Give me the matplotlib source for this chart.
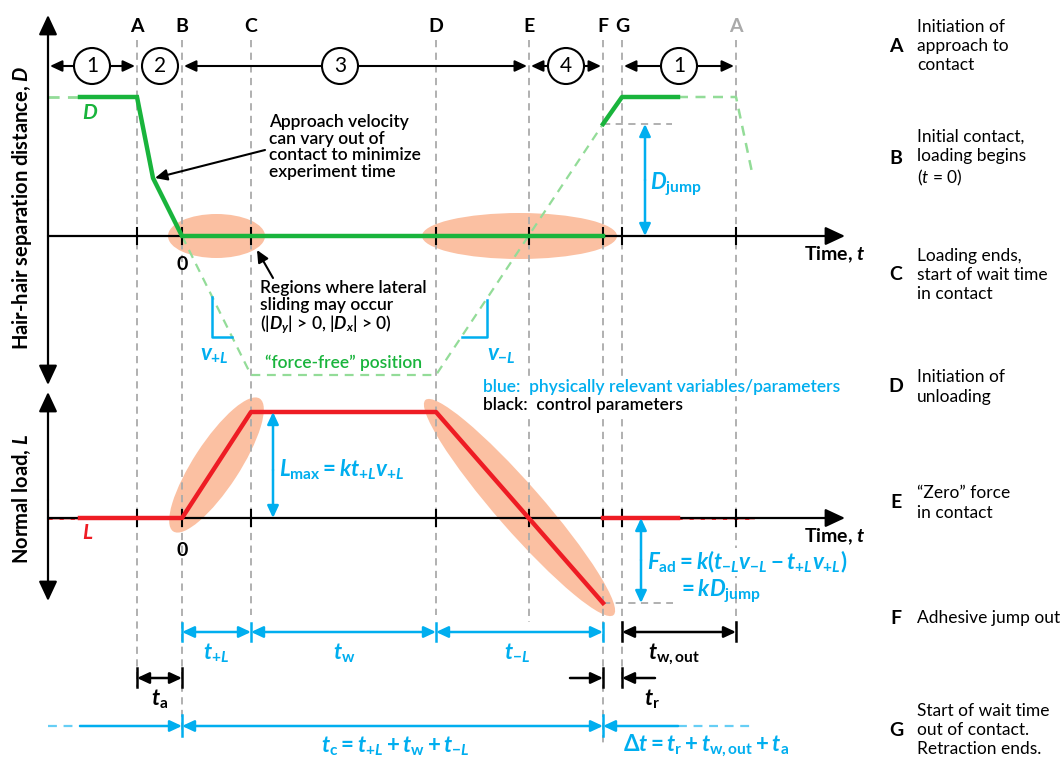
import numpy as np
import matplotlib.pyplot as plt
from matplotlib.patches import Ellipse, Circle

plt.rcParams['font.family'] = ['Lato', 'DejaVu Sans']
plt.rcParams['mathtext.fontset'] = 'custom'
plt.rcParams['mathtext.rm'] = 'Lato:bold'
plt.rcParams['mathtext.bf'] = 'Lato:bold'
plt.rcParams['mathtext.it'] = 'Lato:italic:bold'
plt.rcParams['mathtext.sf'] = 'Lato:italic'

# event letters and their position along the time axis (drawing units)
events = ["A", "B", "C", "D", "E", "F", "G", "A"]
t_ev = [137, 182, 251, 436, 529, 603, 622, 736]
ev_line_end = [687, 733, 615, 615, 622, 743, 687, 640]

# phases of the cycle
phases = ["1", "2", "3", "4", "1"]
phase_span = [(48, 137), (137, 182), (182, 529), (529, 603), (622, 736)]
phase_x = [92, 160, 340, 566, 679]

# separation distance D (positive = apart), in contact
d_t = [80, 137, 153, 182, 603]
d_val = [139, 139, 58, 0, 0]
# after jump out
d_out_t = [603, 622, 678]
d_out_val = [112, 139, 139]
# force-free position
ff_t = [182, 251, 436, 603]
ff_val = [0, -139, -139, 112]

# normal load L
l_t = [80, 182, 251, 436, 603]
l_val = [0, 0, 106, 106, -85]
l_out_t = [603, 678]
l_out_val = [0, 0]

# step descriptions on the right
desc_letters = ["A", "B", "C", "D", "E", "F", "G"]
desc_text = ["Initiation of\napproach to\ncontact",
             "Initial contact,\nloading begins\n($\\mathsf{t}$ = 0)",
             "Loading ends,\nstart of wait time\nin contact",
             "Initiation of\nunloading",
             "\u201cZero\u201d force\nin contact",
             "Adhesive jump out",
             "Start of wait time\nout of contact.\nRetraction ends."]
desc_y = [46, 158, 275, 387, 503, 618, 730]

GREEN = '#19b43c'
LGREEN = '#93dc98'
RED = '#ee1c24'
LRED = '#f8a5a5'
BLUE = '#00aeef'
SALMON = '#fbc0a2'
GREY = '#aaaaaa'

Y_D = 236   # zero line of D panel
Y_L = 518   # zero line of L panel

fig = plt.figure(figsize=(10.61, 7.59), dpi=100)
ax = fig.add_axes([0, 0, 1, 1])
ax.set_xlim(0, 1061)
ax.set_ylim(759, 0)
ax.axis('off')


def yd(v):
    return Y_D - np.asarray(v)


def yl(v):
    return Y_L - np.asarray(v)


def arr(x0, y0, x1, y1, c='black', both=False, lw=1.5, ms=12, z=4):
    st = '<|-|>' if both else '-|>'
    ax.annotate('', xy=(x1, y1), xytext=(x0, y0),
                arrowprops=dict(arrowstyle=st + ',head_length=0.6,head_width=0.28',
                                color=c, lw=lw, shrinkA=0, shrinkB=0,
                                mutation_scale=ms), zorder=z)


def blob(x0, y0, x1, y1, pad, minor):
    cx, cy = (x0 + x1) / 2, (y0 + y1) / 2
    ang = np.degrees(np.arctan2(y1 - y0, x1 - x0))
    length = np.hypot(x1 - x0, y1 - y0) + 2 * pad
    ax.add_patch(Ellipse((cx, cy), length, minor, angle=ang,
                         facecolor=SALMON, lw=0, zorder=1))


# highlighted sliding regions
blob(t_ev[1], Y_D, t_ev[2], Y_D, 14, 44)
blob(t_ev[3], Y_D, t_ev[5], Y_D, 14, 46)
blob(l_t[1], yl(l_val[1]), l_t[2], yl(l_val[2]), 16, 46)
blob(l_t[3], yl(l_val[3]), l_t[4], yl(l_val[4]), 16, 46)

# event lines and letters
for i, (e, x) in enumerate(zip(events, t_ev)):
    ax.plot([x, x], [40, ev_line_end[i]], color=GREY, lw=1.3,
            dashes=(4, 3), zorder=2)
    col = GREY if i == len(events) - 1 else 'black'
    ax.text(x, 26, e, ha='center', va='center', fontsize=14,
            fontweight='bold', color=col)
    for y0 in (Y_D, Y_L):
        ax.plot([x, x], [y0 - 8, y0 + 8], color='black', lw=1.5, zorder=4)

# axes
arr(48, 200, 48, 15, ms=20, lw=1.6)
arr(48, 200, 48, 385, ms=20, lw=1.6)
arr(48, 500, 48, 392, ms=20, lw=1.6)
arr(48, 500, 48, 601, ms=20, lw=1.6)
arr(48, Y_D, 845, Y_D, ms=20, lw=1.6)
arr(48, Y_L, 845, Y_L, ms=20, lw=1.6)
ax.text(866, 255, 'Time, $t$', ha='right', va='center', fontsize=14,
        fontweight='bold')
ax.text(866, 537, 'Time, $t$', ha='right', va='center', fontsize=14,
        fontweight='bold')
ax.text(22, 208, 'Hair-hair separation distance, $D$', rotation=90,
        ha='center', va='center', fontsize=14.5, fontweight='bold')
ax.text(22, 499, 'Normal load, $L$', rotation=90, ha='center', va='center',
        fontsize=14.5, fontweight='bold')

# phases
for p, (a, b), cx in zip(phases, phase_span, phase_x):
    ax.add_patch(Circle((cx, 66), 18, facecolor='white', edgecolor='black',
                        lw=1.5, zorder=5))
    ax.text(cx, 66, p, ha='center', va='center', fontsize=15, zorder=6)
    if cx - 18 - a > 8:
        arr(cx - 18, 66, a + 2, 66)
        arr(cx + 18, 66, b - 2, 66)

# D curve
ax.plot([48, d_t[0]], yd([d_val[0], d_val[0]]), color=LGREEN, lw=2,
        dashes=(4, 3), zorder=3)
ax.plot(ff_t, yd(ff_val), color=LGREEN, lw=1.6, dashes=(4, 3), zorder=3)
ax.plot([d_out_t[-1], t_ev[-1], 753], yd([139, 139, 59]), color=LGREEN,
        lw=1.8, dashes=(4, 3), zorder=3)
ax.plot(d_t, yd(d_val), color=GREEN, lw=3.2, zorder=4,
        solid_joinstyle='miter')
ax.plot(d_out_t, yd(d_out_val), color=GREEN, lw=3.2, zorder=4)
ax.text(90, 113, '$D$', color=GREEN, fontsize=15, ha='center', va='center')
ax.text(182, 264, '0', fontsize=14, fontweight='bold', ha='center',
        va='center')

# D jump
ax.plot([d_out_t[0], 672], yd([d_out_val[0]] * 2), color=GREY, lw=1.3,
        dashes=(4, 3), zorder=2)
arr(645, 180, 645, yd(d_out_val[0]), c=BLUE, lw=1.8)
arr(645, 180, 645, Y_D, c=BLUE, lw=1.8)
ax.text(650, 184, r'$D_{\rm jump}$', color=BLUE, fontsize=16, ha='left',
        va='center')

# velocity triangles
ax.plot([212, 212, 232], [297, 337, 337], color=BLUE, lw=1.8, zorder=3)
ax.text(200, 356, '$v_{+L}$', color=BLUE, fontsize=16, ha='left',
        va='center')
ax.plot([487, 487, 462], [300, 337, 337], color=BLUE, lw=1.8, zorder=3)
ax.text(487, 356, '$v_{-L}$', color=BLUE, fontsize=16, ha='left',
        va='center')
ax.text(265, 363, '\u201cforce-free\u201d position', color=GREEN, fontsize=12.5,
        fontweight='semibold', ha='left', va='center')

# annotations
ax.text(269, 147, 'Approach velocity\ncan vary out of\ncontact to minimize\n'
        'experiment time', fontsize=12.5, fontweight='semibold', ha='left',
        va='center', linespacing=1.05)
arr(265, 150, 155, 178, lw=1.5)
ax.text(260, 308, 'Regions where lateral\nsliding may occur\n'
        '(|$D_y$| > 0, |$D_x$| > 0)', fontsize=12.5, fontweight='semibold',
        ha='left', va='center', linespacing=1.05)
arr(273, 278, 257, 250, lw=1.5)

# legend of colours
ax.text(483, 387, 'blue:  physically relevant variables/parameters',
        color=BLUE, fontsize=12.5, fontweight='semibold', ha='left',
        va='center', zorder=5,
        bbox=dict(facecolor='white', edgecolor='none', pad=0.5))
ax.text(483, 405, 'black:  control parameters', color='black', fontsize=12.5,
        fontweight='semibold', ha='left', va='center', zorder=5,
        bbox=dict(facecolor='white', edgecolor='none', pad=0.5))

# L curve
ax.plot([48, l_t[0]], [Y_L, Y_L], color=LRED, lw=2, zorder=3)
ax.plot([48, l_t[0]], [Y_L, Y_L], color=RED, lw=2, dashes=(1.5, 2.5),
        zorder=3)
ax.plot([l_out_t[-1], 753], [Y_L, Y_L], color=LRED, lw=2, zorder=3)
ax.plot([l_out_t[-1], 753], [Y_L, Y_L], color=RED, lw=2, dashes=(1.5, 2.5),
        zorder=3)
ax.plot(l_t, yl(l_val), color=RED, lw=3.2, zorder=4)
ax.plot(l_out_t, yl(l_out_val), color=RED, lw=3.2, zorder=4)
ax.text(88, 533, '$L$', color=RED, fontsize=15, ha='center', va='center')
ax.text(182, 550, '0', fontsize=14, fontweight='bold', ha='center',
        va='center')

# L max
arr(273, 470, 273, yl(l_val[2]), c=BLUE, lw=1.8)
arr(273, 470, 273, Y_L, c=BLUE, lw=1.8)
ax.text(279, 470, r'$L_{\rm max} = kt_{+L}v_{+L}$', color=BLUE, fontsize=16,
        ha='left', va='center')

# adhesion
ax.plot([l_t[-1], 673], yl([l_val[-1]] * 2), color=GREY, lw=1.3,
        dashes=(4, 3), zorder=2)
arr(641, 560, 641, Y_L, c=BLUE, lw=1.8)
arr(641, 560, 641, yl(l_val[-1]), c=BLUE, lw=1.8)
ax.text(647, 562, r'$F_{\rm ad} = k(t_{-L}v_{-L} - t_{+L}v_{+L})$',
        color=BLUE, fontsize=16, ha='left', va='center', zorder=5,
        bbox=dict(facecolor='white', edgecolor='none', pad=0.5))
ax.text(678, 591, r'$= kD_{\rm jump}$', color=BLUE, fontsize=16, ha='left',
        va='center')

# time intervals, row 1
for x in (t_ev[1], t_ev[2], t_ev[3], t_ev[5]):
    ax.plot([x, x], [623, 641], color=BLUE, lw=1.8, zorder=4)
arr(t_ev[1], 632, t_ev[2], 632, c=BLUE, both=True, lw=1.8)
arr(t_ev[2], 632, t_ev[3], 632, c=BLUE, both=True, lw=1.8)
arr(t_ev[3], 632, t_ev[5], 632, c=BLUE, both=True, lw=1.8)
ax.text(216, 653, '$t_{+L}$', color=BLUE, fontsize=16, ha='center',
        va='center')
ax.text(344, 653, r'$t_{\rm w}$', color=BLUE, fontsize=16, ha='center',
        va='center')
ax.text(517, 653, '$t_{-L}$', color=BLUE, fontsize=16, ha='center',
        va='center')
for x in (t_ev[6], t_ev[7]):
    ax.plot([x, x], [622, 641], color='black', lw=1.8, zorder=4)
arr(t_ev[6], 632, t_ev[7], 632, both=True, lw=1.8)
ax.text(674, 654, r'$t_{\rm w,out}$', fontsize=16, ha='center', va='center')

# row 2
for x in (t_ev[0], t_ev[1], t_ev[5], t_ev[6]):
    ax.plot([x, x], [668, 687], color='black', lw=1.8, zorder=4)
arr(t_ev[0], 678, t_ev[1], 678, both=True, lw=1.8)
ax.text(160, 699, r'$t_{\rm a}$', fontsize=16, ha='center', va='center')
arr(570, 678, t_ev[5], 678, lw=1.8)
arr(655, 678, t_ev[6], 678, lw=1.8)
ax.text(652, 699, r'$t_{\rm r}$', fontsize=16, ha='center', va='center')

# row 3
for x in (t_ev[1], t_ev[5]):
    ax.plot([x, x], [715, 736], color=BLUE, lw=1.8, zorder=4)
ax.plot([48, 80], [726, 726], color=BLUE, lw=1.6, dashes=(4, 3), alpha=0.6)
arr(80, 726, t_ev[1], 726, c=BLUE, lw=1.8)
arr(t_ev[1], 726, t_ev[5], 726, c=BLUE, both=True, lw=1.8)
arr(678, 726, t_ev[5], 726, c=BLUE, lw=1.8)
ax.plot([678, 753], [726, 726], color=BLUE, lw=1.6, dashes=(4, 3), alpha=0.6)
ax.text(395, 746, r'$t_{\rm c} = t_{+L} + t_{\rm w} + t_{-L}$', color=BLUE,
        fontsize=16, ha='center', va='center')
ax.text(706, 746, r'$\Delta t = t_{\rm r} + t_{\rm w,out} + t_{\rm a}$',
        color=BLUE, fontsize=16, ha='center', va='center')

# right column
for let, txt, y in zip(desc_letters, desc_text, desc_y):
    ax.text(896, y, let, ha='center', va='center', fontsize=14,
            fontweight='bold')
    ax.text(917, y, txt, ha='left', va='center', fontsize=12.5,
            linespacing=1.25)

fig.savefig('out.png', dpi=100)
